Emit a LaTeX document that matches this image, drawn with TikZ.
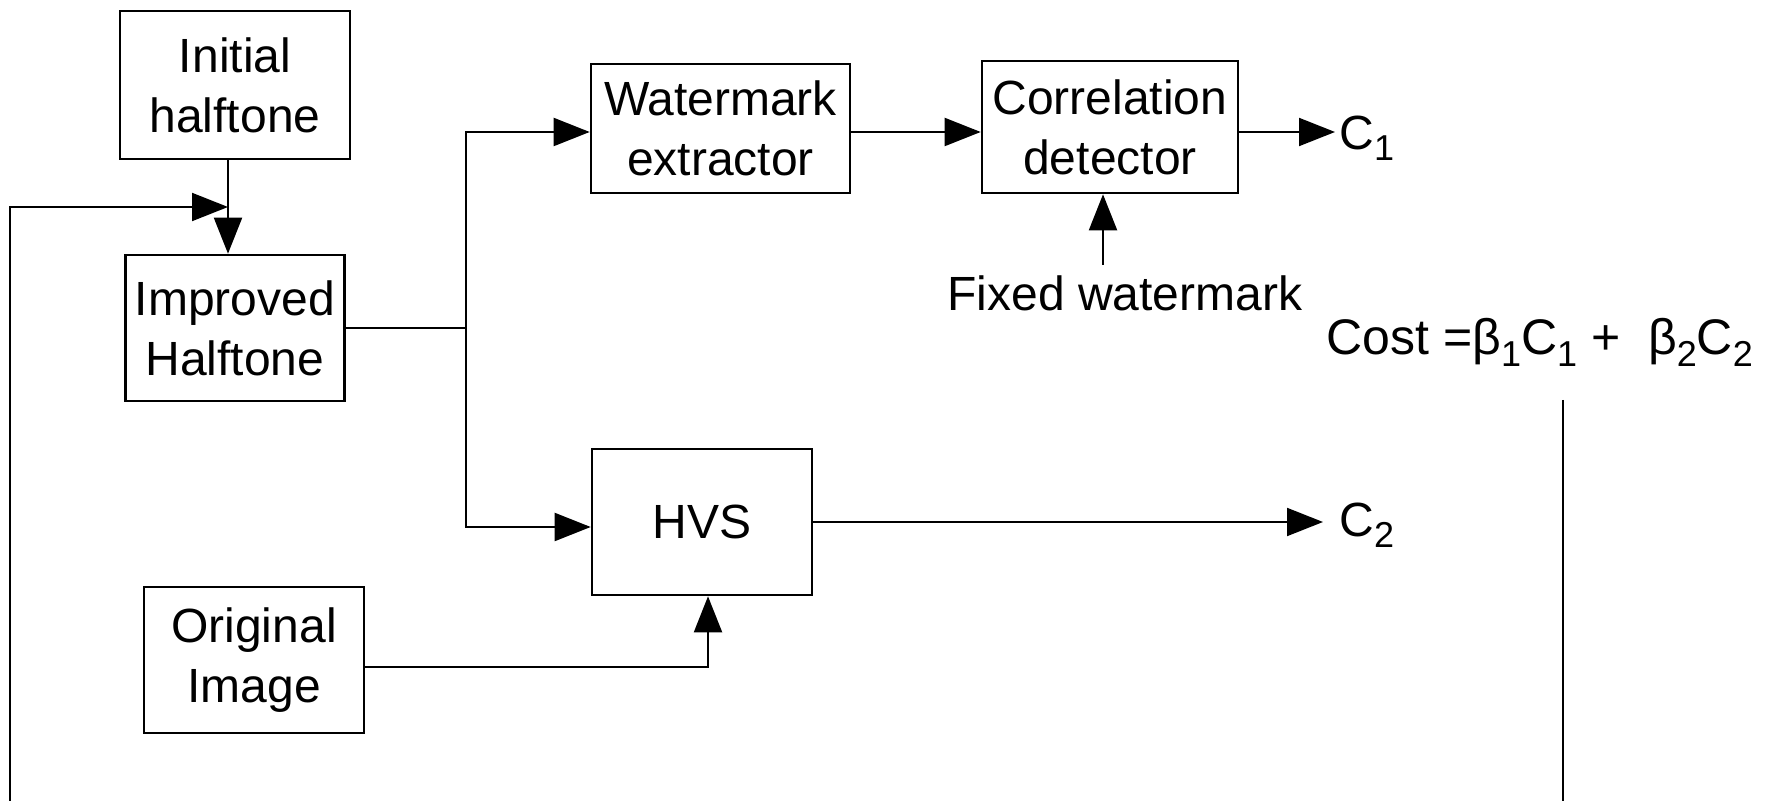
\documentclass[tikz,border=0pt]{standalone}
\usepackage{fontspec}
\setmainfont{Liberation Sans}
\usetikzlibrary{arrows.meta}

% lowered, smaller index for C_1, beta_2, ...
\newcommand{\lowidx}[2][5.5pt]{\raisebox{-#1}{\fontsize{18}{18}\selectfont #2}}

\begin{document}
\begin{tikzpicture}[x=0.5pt,y=-0.5pt,
  block/.style={draw, line width=1.3pt, inner sep=0pt, align=center,
                font=\fontsize{24}{30}\selectfont},
  conn/.style={line width=1pt},
  arr/.style={conn, -{Triangle[length=18pt,width=14pt]}},
  lbl/.style={inner sep=0pt, anchor=base west, font=\fontsize{24}{30}\selectfont}]

\useasboundingbox (0,0) rectangle (1766,801);

% blocks
\node[block, minimum width=115pt,   minimum height=74pt]   (init) at (235,85)      {Initial\\halftone};
\node[block, minimum width=109.5pt, minimum height=73pt]   (impr) at (235,328)     {Improved\\Halftone};
\node[block, minimum width=129.5pt, minimum height=64.5pt] (wext) at (720.5,128.5) {Watermark\\extractor};
\node[block, minimum width=128pt,   minimum height=66pt]   (corr) at (1110,127)    {Correlation\\detector};
\node[block, minimum width=110pt,   minimum height=73pt]   (hvs)  at (702,522)     {HVS};
\node[block, minimum width=110pt,   minimum height=73pt]   (orig) at (254,660)     {Original\\Image};

% free labels
\node[lbl] (c1) at (1339,150) {C\lowidx{1}};
\node[lbl] (c2) at (1339,537) {C\lowidx{2}};
\node[lbl] (fixed) at (947,311) {Fixed watermark};
\node[lbl, font=\fontsize{25}{30}\selectfont] (cost) at (1326,355)
  {Cost =β\lowidx[6pt]{1}C\lowidx[6pt]{1} +\ \ β\lowidx[6pt]{2}C\lowidx[6pt]{2}};

% routing points
\coordinate (fbBot)    at (10,801);
\coordinate (fbTop)    at (10,207);
\coordinate (fbEnd)    at (228,207);
\coordinate (split)    at (466,328);
\coordinate (rowA)     at (0,132);
\coordinate (rowB)     at (0,527);
\coordinate (c1tip)    at (1335,132);
\coordinate (c2tip)    at (1323,522);
\coordinate (fixTail)  at (1103,265);
\coordinate (origBend) at (708,667);
\coordinate (costTop)  at (1563,400);
\coordinate (costBot)  at (1563,801);

% connectors
\draw[arr] (init.south -| fbEnd) -- (impr.north -| fbEnd);
\draw[arr] (fbBot) -- (fbTop) -- (fbEnd);
\draw[conn] (impr.east) -- (split);
\draw[arr] (split) |- (wext.west |- rowA);
\draw[arr] (split) |- (hvs.west |- rowB);
\draw[arr] (wext.east |- rowA) -- (corr.west |- rowA);
\draw[arr] (corr.east |- rowA) -- (c1tip);
\draw[arr] (fixTail) -- (corr.south -| fixTail);
\draw[arr] (hvs.east |- c2tip) -- (c2tip);
\draw[arr] (orig.east |- origBend) -- (origBend) -- (hvs.south -| origBend);
\draw[conn] (costTop) -- (costBot);

\end{tikzpicture}
\end{document}
